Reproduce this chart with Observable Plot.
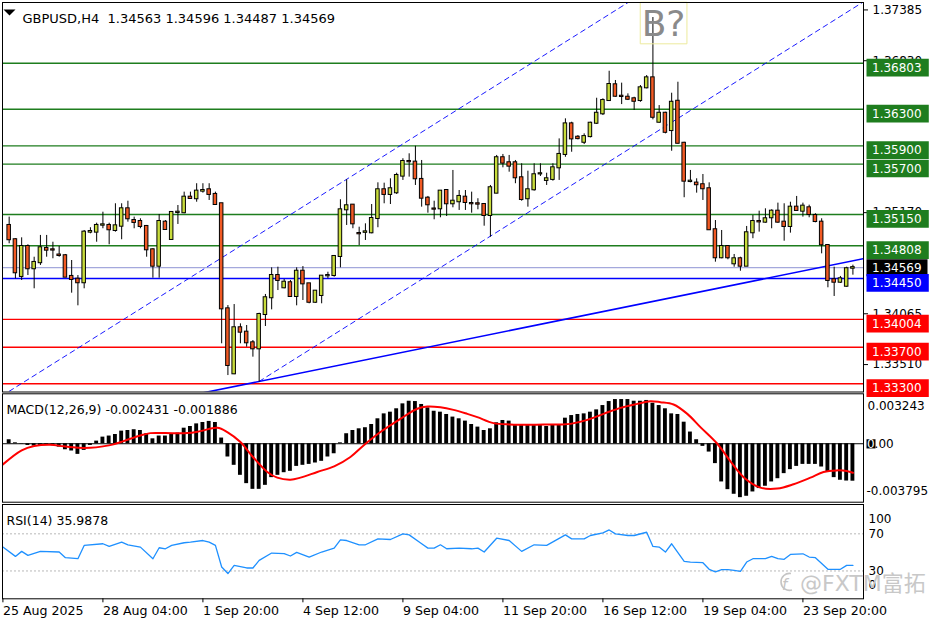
<!DOCTYPE html>
<html><head><meta charset="utf-8">
<script src="https://cdn.jsdelivr.net/npm/d3@7"></script>
<script src="https://cdn.jsdelivr.net/npm/@observablehq/plot@0.6"></script>
<style>
html,body{margin:0;padding:0;background:#fff;}
#chart{position:relative;width:936px;height:624px;overflow:hidden;background:#fff;}
#chart svg{position:absolute;left:0;}
</style></head><body><div id="chart"></div>
<script>
// ---------------- data ----------------
const opens = [
1.35030,1.34874,1.34473,1.34800,1.34557,1.34623,1.34778,1.34764,1.34707,1.34699,
1.34473,1.34443,1.34404,1.34957,1.34957,1.35033,1.35030,1.34975,1.35022,1.35212,
1.35084,1.35073,1.35019,1.34764,1.34585,1.35066,1.34877,1.35172,1.35169,1.35339,
1.35322,1.35405,1.35420,1.35369,1.35267,1.34119,1.33409,1.33912,1.33864,1.33748,
1.33682,1.34057,1.34240,1.34483,1.34349,1.34404,1.34254,1.34530,1.34392,1.34191,
1.34265,1.34480,1.34483,1.34691,1.35201,1.35252,1.34942,1.34955,1.34950,1.35106,
1.35420,1.35369,1.35387,1.35569,1.35729,1.35722,1.35533,1.35328,1.35210,1.35212,
1.35412,1.35267,1.35289,1.35339,1.35270,1.35267,1.35259,1.35139,1.35383,1.35770,
1.35715,1.35715,1.35551,1.35322,1.35420,1.35593,1.35522,1.35533,1.35660,1.35806,
1.36140,1.35994,1.35939,1.36001,1.36147,1.36250,1.36395,1.36567,1.36442,1.36431,
1.36414,1.36395,1.36534,1.36643,1.36158,1.36256,1.36067,1.36387,1.35928,1.35510,
1.35493,1.35475,1.35431,1.34983,1.34677,1.34800,1.34611,1.34666,1.34585,1.34950,
1.35073,1.35066,1.35114,1.35186,1.35066,1.35019,1.35230,1.35186,1.35223,1.35139,
1.35066,1.34811,1.34437,1.34410,1.34366,1.34563];
const highs = [
1.35121,1.34885,1.34895,1.34819,1.34683,1.34921,1.34921,1.34847,1.34800,1.34713,
1.34647,1.34483,1.34975,1.35005,1.35055,1.35175,1.35055,1.35267,1.35267,1.35295,
1.35121,1.35103,1.35030,1.34775,1.35150,1.35084,1.35175,1.35248,1.35394,1.35394,
1.35486,1.35486,1.35486,1.35394,1.35267,1.34155,1.34166,1.33955,1.33937,1.33773,
1.34071,1.34276,1.34567,1.34574,1.34440,1.34429,1.34567,1.34581,1.34392,1.34319,
1.34483,1.34519,1.34702,1.35311,1.35529,1.35259,1.35011,1.35048,1.35259,1.35496,
1.35492,1.35540,1.35601,1.35759,1.35813,1.35896,1.35740,1.35347,1.35295,1.35412,
1.35412,1.35631,1.35412,1.35412,1.35394,1.35322,1.35267,1.35467,1.35795,1.35806,
1.35795,1.35740,1.35704,1.35623,1.35704,1.35704,1.35601,1.35704,1.35976,1.36195,
1.36158,1.36012,1.36031,1.36158,1.36420,1.36414,1.36715,1.36614,1.36585,1.36468,
1.36431,1.36559,1.36668,1.37302,1.36340,1.36267,1.36475,1.36595,1.35939,1.35631,
1.35540,1.35587,1.35496,1.35084,1.34975,1.34811,1.34713,1.34683,1.35019,1.35139,
1.35186,1.35212,1.35201,1.35274,1.35267,1.35284,1.35347,1.35274,1.35252,1.35158,
1.35103,1.34819,1.34574,1.34473,1.34574,1.34596];
const lows = [
1.34830,1.34447,1.34429,1.34483,1.34338,1.34593,1.34683,1.34666,1.34683,1.34461,
1.34290,1.34152,1.34338,1.34939,1.34847,1.34994,1.34819,1.34957,1.34874,1.35066,
1.34994,1.34994,1.34683,1.34454,1.34454,1.34975,1.34874,1.35041,1.35158,1.35322,
1.35284,1.35383,1.35303,1.35248,1.33737,1.33390,1.33400,1.33737,1.33700,1.33591,
1.33317,1.33926,1.34108,1.34319,1.34338,1.34246,1.34152,1.34210,1.34174,1.34180,
1.34174,1.34447,1.34465,1.34567,1.35030,1.34994,1.34811,1.34866,1.34939,1.35005,
1.35267,1.35259,1.35369,1.35522,1.35558,1.35467,1.35230,1.35164,1.35092,1.35114,
1.35128,1.35223,1.35194,1.35194,1.35164,1.35201,1.35022,1.34902,1.35376,1.35660,
1.35612,1.35486,1.35295,1.35230,1.35405,1.35565,1.35467,1.35514,1.35522,1.35775,
1.35830,1.35965,1.35914,1.35987,1.36133,1.36231,1.36387,1.36431,1.36351,1.36395,
1.36286,1.36376,1.36523,1.36184,1.36147,1.36031,1.35841,1.35920,1.35333,1.35496,
1.35383,1.35303,1.34975,1.34629,1.34666,1.34655,1.34574,1.34530,1.34582,1.34885,
1.34957,1.35055,1.34994,1.35055,1.34858,1.34946,1.35186,1.35121,1.35114,1.35059,
1.34720,1.34349,1.34254,1.34396,1.34355,1.34487];
const closes = [
1.34874,1.34513,1.34800,1.34557,1.34626,1.34786,1.34760,1.34761,1.34702,1.34465,
1.34440,1.34404,1.34957,1.34964,1.35030,1.35037,1.34983,1.35026,1.35212,1.35103,
1.35063,1.35019,1.34764,1.34585,1.35073,1.34986,1.35172,1.35175,1.35339,1.35325,
1.35405,1.35412,1.35369,1.35259,1.34119,1.33500,1.33912,1.33864,1.33748,1.33682,
1.34057,1.34240,1.34483,1.34429,1.34410,1.34254,1.34530,1.34392,1.34191,1.34312,
1.34476,1.34483,1.34691,1.35201,1.35245,1.35048,1.34939,1.34960,1.35106,1.35420,
1.35369,1.35431,1.35576,1.35729,1.35726,1.35540,1.35328,1.35256,1.35208,1.35405,
1.35267,1.35295,1.35347,1.35281,1.35267,1.35263,1.35139,1.35442,1.35770,1.35711,
1.35678,1.35551,1.35314,1.35420,1.35584,1.35595,1.35540,1.35660,1.35806,1.36140,
1.35976,1.35979,1.36001,1.36147,1.36256,1.36395,1.36570,1.36442,1.36439,1.36409,
1.36387,1.36534,1.36643,1.36212,1.36256,1.36048,1.36376,1.35928,1.35514,1.35514,
1.35475,1.35431,1.34983,1.34677,1.34800,1.34677,1.34666,1.34585,1.34950,1.35073,
1.35069,1.35103,1.35186,1.35066,1.35019,1.35230,1.35194,1.35241,1.35150,1.35073,
1.34819,1.34429,1.34410,1.34447,1.34557,1.34569];

const macdMain = [
0.00026,0.00006,-0.00002,-0.00011,-0.00015,-0.00013,-0.00011,-0.00013,-0.00022,-0.00039,
-0.00047,-0.00069,-0.00043,-0.00011,0.00017,0.00043,0.00050,0.00060,0.00082,0.00086,
0.00091,0.00086,0.00065,0.00032,0.00050,0.00050,0.00065,0.00069,0.00101,0.00112,
0.00129,0.00138,0.00145,0.00138,0.00037,-0.00086,-0.00140,-0.00205,-0.00259,-0.00296,
-0.00296,-0.00270,-0.00220,-0.00205,-0.00188,-0.00179,-0.00147,-0.00140,-0.00134,-0.00125,
-0.00114,-0.00086,-0.00065,0.00006,0.00065,0.00086,0.00097,0.00104,0.00125,0.00162,
0.00194,0.00205,0.00227,0.00259,0.00276,0.00274,0.00255,0.00233,0.00211,0.00205,
0.00190,0.00173,0.00162,0.00147,0.00125,0.00108,0.00086,0.00097,0.00136,0.00151,
0.00147,0.00119,0.00119,0.00119,0.00119,0.00119,0.00112,0.00119,0.00119,0.00166,
0.00183,0.00190,0.00194,0.00205,0.00220,0.00248,0.00274,0.00287,0.00287,0.00287,
0.00276,0.00276,0.00281,0.00263,0.00248,0.00227,0.00194,0.00190,0.00140,0.00076,
0.00026,-0.00017,-0.00054,-0.00129,-0.00248,-0.00298,-0.00328,-0.00350,-0.00341,-0.00313,
-0.00291,-0.00276,-0.00248,-0.00227,-0.00194,-0.00168,-0.00147,-0.00134,-0.00134,-0.00134,
-0.00151,-0.00183,-0.00220,-0.00237,-0.00242,-0.002431];

const signalBar = [-1,2,4,6.6,8.7,11,13,15,16.7,18.3,21,22.6,25,28.5,30.6,33.3,34.9,37,39,41.3,
42.9,45,46.6,49.3,52,54.6,56.7,59.4,62.6,65.3,66.9,69,71.1,73.3,74.9,77.5,80.2,82.9,85.5,88.2,
89.8,92.5,95.1,97.8,100.5,102.6,104.2,106.3,108.5,110.6,113.3,115.5,117.6,120.2,122.9,125.5,128.2,130.3,132.4,134,135];
const signalVal = [-0.00134,-0.00043,-0.00015,-0.00006,-0.00017,-0.00026,-0.00026,-0.00017,-0.00004,0.00017,
0.00054,0.00069,0.00069,0.00069,0.00082,0.00104,0.00076,0.00011,-0.00086,-0.00183,
-0.00220,-0.00233,-0.00220,-0.00183,-0.00147,-0.00086,-0.00011,0.00076,0.00162,0.00227,
0.00242,0.00237,0.00220,0.00194,0.00173,0.00134,0.00125,0.00123,0.00125,0.00125,
0.00129,0.00155,0.00194,0.00233,0.00259,0.00276,0.00270,0.00255,0.00194,0.00108,
0,-0.00119,-0.00220,-0.00285,-0.00291,-0.00263,-0.00220,-0.00183,-0.00173,-0.00177,-0.001886];

const rsiBar = [-1,1,2,3,5,8,9,11,12,15,16,18,19,21,23,24,25,26,28,29,31,32,33,34,35,36,38,39,40,42,
44,45,46,48,50,52,53,54,56,57,59,61,63,64,66,67,68,69,70,72,74,75,76,78,80,82,84,86,89,90,
92,93,95,96,97,99,100,102,103,104,105,106,108,109,111,112,113,114,115,116,117,118,119,121,122,
123,124,125,127,128,129,131,133,134,135];
const rsiVal = [55.7,45.7,51.1,46.8,51.1,50.4,44.3,43.2,57.5,59.3,56.4,61.0,58.2,55.7,43.2,55.0,53.9,57.5,60.4,61.0,
62.8,61.0,57.5,34.3,27.2,36.0,33.2,33.2,41.4,49.3,48.6,46.1,50.0,45.0,50.4,54.6,63.5,62.8,58.2,58.2,
64.6,63.9,70.0,68.9,59.3,54.6,54.6,58.2,53.9,54.6,53.9,54.6,50.4,65.3,62.8,51.1,58.2,57.5,68.9,64.6,
64.6,68.2,71.0,74.2,70.0,68.2,68.2,71.7,56.4,55.7,50.4,59.3,40.4,39.6,38.9,31.8,29.0,31.4,31.4,30.7,
29.6,39.6,43.2,43.2,45.7,43.2,42.5,47.8,48.5,45.0,44.3,31.8,31.8,36.0,35.99];

const greenLevels = [1.36803,1.36300,1.35900,1.35700,1.35150,1.34808];
const blueLevels = [1.34450];
const redLevels = [1.34004,1.33700,1.33300];
const bidPrice = [1.34569];
const priceTicks = [1.37385,1.36830,1.35170,1.34065,1.33510];
const priceRange = [1.332103,1.374662];
const macdRange = [-0.003795,0.003243];
const rsiLevels = [30,70];
const rsiEnds = [100,0];
const upperChannel = [{k:0,p:1.33218},{k:100,p:1.37508}];
const lowerChannel = [{k:40,p:1.33326},{k:136.7,p:1.37474}];
const trendLine = [{k:30,p:1.33187},{k:136.7,p:1.34667}];
const annotText = ["B?"]; const annotBar = [104.7]; const annotPrice = [1.37242];
const timeTicks = [-1,15,31,47,63,79,95,111,127];
const timeLabels = ["25 Aug 2025","28 Aug 04:00","1 Sep 20:00","4 Sep 12:00","9 Sep 04:00","11 Sep 20:00","16 Sep 12:00","19 Sep 04:00","23 Sep 20:00"];
const headerText = "GBPUSD,H4\u00a0 1.34563 1.34596 1.34487 1.34569";
const macdTitle = "MACD(12,26,9) -0.002431 -0.001886";
const rsiTitle = "RSI(14) 35.9878";
const barDomain = [-1.067, 136.693];

// ---------------- build ----------------
const bars = opens.map((o,i)=>({k:i,o,h:highs[i],l:lows[i],c:closes[i]}));
const macd = macdMain.map((v,i)=>({k:i,v}));
const signal = signalBar.map((k,i)=>({k,v:signalVal[i]}));
const rsi = rsiBar.map((k,i)=>({k,v:rsiVal[i]}));
const annot = annotText.map((t,i)=>({t,k:annotBar[i],p:annotPrice[i]}));

const FONT = "DejaVu Sans, Verdana, sans-serif";
const BULL = "#c8dc3c", BEAR = "#f15a24", GREEN = "#1e7d1e";
const box = (x0,y0,w,h)=>({draw(ctx){ctx.moveTo(x0,y0);ctx.lineTo(x0+w,y0);ctx.lineTo(x0+w,y0+h);ctx.lineTo(x0,y0+h);ctx.closePath();}});
const tri = {draw(ctx){ctx.moveTo(-6,-3);ctx.lineTo(6,-3);ctx.lineTo(0,3);ctx.closePath();}};
const style = {fontFamily: FONT, fontSize: "12px", background: "transparent", overflow: "visible", color:"#000"};
const W = 936, MR = 73, ML = 2;

const levelBox = box(3,-4.5,62.3,17.7);
const lvlText = (arr)=>Plot.text(arr,{y:d=>d,text:d=>d.toFixed(5),frameAnchor:"right",dx:8.5,dy:4.6,textAnchor:"start",fill:"#fff",fontSize:12});

const main = Plot.plot({
  width: W, height: 392, marginTop: 2, marginBottom: 0.5, marginLeft: ML, marginRight: MR,
  x: {domain: barDomain, axis: null},
  y: {domain: priceRange, axis: null, label: null},
  color: {type: "identity"},
  style,
  marks: [
    Plot.ruleY(greenLevels, {y:d=>d, stroke: GREEN, strokeWidth: 1.4}),
    Plot.ruleY(bidPrice, {y:d=>d, stroke: "#a4a8dc", strokeWidth: 1.4}),
    Plot.ruleY(blueLevels, {y:d=>d, stroke: "#0000ff", strokeWidth: 1.4}),
    Plot.ruleY(redLevels, {y:d=>d, stroke: "#ff0000", strokeWidth: 1.4}),
    Plot.line(upperChannel, {x:"k", y:"p", stroke:"#0000ff", strokeWidth:0.9, strokeDasharray:"5,4", clip:true}),
    Plot.line(lowerChannel, {x:"k", y:"p", stroke:"#0000ff", strokeWidth:0.9, strokeDasharray:"5,4", clip:true}),
    Plot.line(trendLine, {x:"k", y:"p", stroke:"#0000ff", strokeWidth:1.6, clip:true}),
    Plot.ruleX(bars, {x:"k", y1:"l", y2:"h", stroke:"#000", strokeWidth:1, clip:true}),
    Plot.rect(bars, {x1:d=>d.k-0.28, x2:d=>d.k+0.28, y1:"o", y2:"c", insetTop:-0.5, insetBottom:-0.5,
      fill:d=>d.c>=d.o?BULL:BEAR, stroke:"#000", strokeWidth:1, clip:true}),
    Plot.dot(annot, {x:"k", y:"p", symbol: box(-23.3,-20.8,46.7,41.6), r:5, fill:"none", stroke:"#ecea9c", strokeWidth:1}),
    Plot.text(annot, {x:"k", y:"p", text:"t", fontSize:36, fill:"#8a8a8a", dy:1.5}),
    Plot.frame({stroke:"#000"}),
    Plot.axisY(priceTicks, {anchor:"right", tickSize:4, tickPadding:5, tickFormat:d=>d.toFixed(5), fontSize:12, label:null}),
    Plot.dot(bidPrice, {y:d=>d, frameAnchor:"right", symbol: box(3,-8.3,61,16.8), r:5, fill:"#000"}),
    Plot.dot(greenLevels, {y:d=>d, frameAnchor:"right", symbol: levelBox, r:5, fill:GREEN}),
    Plot.dot(blueLevels, {y:d=>d, frameAnchor:"right", symbol: levelBox, r:5, fill:"#0000ff"}),
    Plot.dot(redLevels, {y:d=>d, frameAnchor:"right", symbol: levelBox, r:5, fill:"#ff0000"}),
    Plot.text(bidPrice, {y:d=>d,text:d=>d.toFixed(5),frameAnchor:"right",dx:8.5,dy:1,textAnchor:"start",fill:"#fff",fontSize:12}),
    lvlText(greenLevels), lvlText(blueLevels), lvlText(redLevels),
    Plot.dot([0], {frameAnchor:"top-left", symbol: tri, r:5, fill:"#000", dx:7, dy:10}),
    Plot.text([headerText], {text:d=>d, frameAnchor:"top-left", dx:20, dy:11, textAnchor:"start", fontSize:13, fill:"#000"})
  ]
});

const macdPlot = Plot.plot({
  width: W, height: 111, marginTop: 1.3, marginBottom: 1.3, marginLeft: ML, marginRight: MR,
  x: {domain: barDomain, axis: null},
  y: {domain: macdRange, axis: null, label: null},
  style,
  marks: [
    Plot.rect(macd, {x1:d=>d.k-0.31, x2:d=>d.k+0.31, y1:0, y2:"v", fill:"#000", clip:true}),
    Plot.ruleY([0], {y:d=>d, stroke:"#000", strokeWidth:1}),
    Plot.line(signal, {x:"k", y:"v", stroke:"#ff0000", strokeWidth:2, curve:"catmull-rom", clip:true}),
    Plot.frame({stroke:"#000"}),
    Plot.text([macdTitle], {text:d=>d, frameAnchor:"top-left", dx:4, dy:11.7, textAnchor:"start", fontSize:12.5}),
    Plot.text([macdRange[1]], {text:d=>d.toFixed(6), frameAnchor:"top-right", dx:4, dy:7.5, textAnchor:"start", fontSize:12}),
    Plot.text([macdRange[0]], {text:d=>d.toFixed(6), frameAnchor:"bottom-right", dx:3, dy:-7.5, textAnchor:"start", fontSize:12}),
    Plot.dot([0], {y:d=>d, frameAnchor:"right", symbol: box(3,-4.5,9,9.2), r:5, fill:"#000"}),
    Plot.text([0], {y:d=>d, text:d=>d.toFixed(2).slice(0,1), frameAnchor:"right", dx:3.5, textAnchor:"start", fill:"#fff", fontSize:12}),
    Plot.text([0], {y:d=>d, text:d=>d.toFixed(2).slice(1), frameAnchor:"right", dx:11.1, textAnchor:"start", fill:"#000", fontSize:12})
  ]
});

const rsiPlot = Plot.plot({
  width: W, height: 122, marginTop: 2, marginBottom: 25.7, marginLeft: ML, marginRight: MR,
  x: {domain: barDomain, axis: null},
  y: {domain: [0, 101.6], axis: null, label: null},
  style,
  marks: [
    Plot.ruleY(rsiLevels, {y:d=>d, stroke:"#b8b8b8", strokeDasharray:"2,2"}),
    Plot.line(rsi, {x:"k", y:"v", stroke:"#1e90ff", strokeWidth:1.3, clip:true}),
    Plot.frame({stroke:"#000"}),
    Plot.text([rsiTitle], {text:d=>d, frameAnchor:"top-left", dx:4, dy:12, textAnchor:"start", fontSize:12.5}),
    Plot.text(rsiLevels, {y:d=>d, text:d=>String(d), frameAnchor:"right", dx:5, textAnchor:"start", fontSize:12}),
    Plot.text([rsiEnds[0]], {text:d=>String(d), frameAnchor:"top-right", dx:5, dy:10, textAnchor:"start", fontSize:12}),
    Plot.text([rsiEnds[1]], {text:d=>String(d), frameAnchor:"bottom-right", dx:5, dy:-10, textAnchor:"start", fontSize:12}),
    Plot.axisX(timeTicks, {anchor:"bottom", tickSize:4, tickPadding:3, textAnchor:"start",
      tickFormat:d=>timeLabels[timeTicks.indexOf(d)], fontSize:12.6, label:null})
  ]
});

const host = document.getElementById("chart");
main.style.top = "0px"; macdPlot.style.top = "392px"; rsiPlot.style.top = "502px";
host.append(main, macdPlot, rsiPlot);

// watermark
const NS = "http://www.w3.org/2000/svg";
const wm = document.createElementNS(NS, "svg");
wm.setAttribute("width", 936); wm.setAttribute("height", 624);
wm.style.top = "0px"; wm.style.pointerEvents = "none";
wm.innerHTML = `<path d="M791 573.5 A8.5 8.5 0 1 0 792 590" fill="none" stroke="#c4c4c4" stroke-width="1.6"/>
<text x="782" y="590" font-family="DejaVu Sans" font-size="15" font-style="italic" fill="#c4c4c4">f</text>
<text x="800" y="591" font-family="DejaVu Sans, sans-serif" font-size="22" fill="#c8c8c8">@FXTM<tspan font-family="Noto Sans CJK SC">富拓</tspan></text>`;
host.append(wm);
</script></body></html>
